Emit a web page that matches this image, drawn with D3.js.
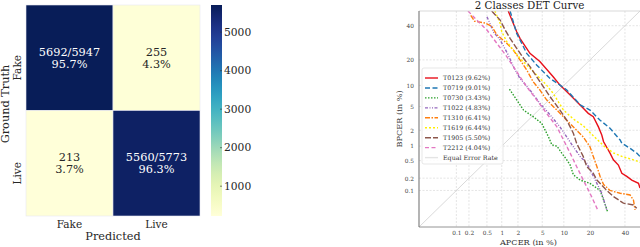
<!DOCTYPE html>
<html>
<head>
<meta charset="utf-8">
<script src="https://cdn.jsdelivr.net/npm/d3@7"></script>
<style>
  html, body { margin: 0; padding: 0; background: #fff; }
  svg { display: block; font-family: "DejaVu Serif", serif; }
</style>
</head>
<body>
<svg id="chart" width="640" height="247"></svg>
<script>
// ---- confusion matrix data ----
const cm_rows = ["Fake", "Live"];
const cm_cols = ["Fake", "Live"];
const cm_counts = [[5692, 255], [213, 5560]];
const cm_totals = [5947, 5773];
const cm_pcts = [["95.7%", "4.3%"], ["3.7%", "96.3%"]];
const cbar_ticks = [1000, 2000, 3000, 4000, 5000];

// ---- DET curve data, [APCER %, BPCER %] ----
const det_names = ["T0123", "T0719", "T0730", "T1022", "T1310", "T1619", "T1905", "T2212"];
const det_eer = ["9.62%", "9.01%", "3.43%", "4.83%", "6.41%", "6.44%", "5.50%", "4.04%"];
const det_ticks = [0.1, 0.2, 0.5, 1, 2, 5, 10, 20, 40];
const det_tick_labels = ["0.1", "0.2", "0.5", "1", "2", "5", "10", "20", "40"];

const t0123 = [[1.33, 50], [1.9, 36], [2.17, 31.9], [3.2, 23.3], [4.6, 19.2], [7.2, 12.9], [8.9, 10.1],
  [12, 7.4], [14.4, 5.9], [17, 4.7], [19.2, 3.9], [21.6, 3.45], [24.2, 2.3], [26, 1.64], [27, 1.22],
  [30.7, 0.72], [32.7, 0.52], [35.8, 0.4], [38, 0.26], [41.2, 0.22], [44.5, 0.18], [49, 0.15], [50, 0.115]];
const t0719 = [[1.44, 50], [1.9, 35], [2.83, 23.3], [4.1, 17.6], [6.5, 12.3], [8.9, 10.1], [10.9, 8.7],
  [15.7, 5.3], [20, 4.4], [25.1, 3.0], [30.7, 2.17], [36.9, 1.32], [38, 1.14], [43.4, 0.9], [47.8, 0.72], [50, 0.61]];
const t0730 = [[1.4, 8.9], [1.9, 6.3], [2.5, 4.4], [3.6, 3.45], [4.9, 2.66], [6.2, 1.5], [6.9, 1.06], [8.1, 1.0],
  [9.4, 0.72], [10.9, 0.52], [12, 0.4], [13.1, 0.24], [15.7, 0.18], [20, 0.15], [25.1, 0.1], [27, 0.057], [29.2, 0.028]];
const t1022 = [[0.5, 46], [0.54, 43.8], [0.68, 36], [0.93, 30.9], [1.33, 22.5], [1.65, 16.9], [2.17, 12.3], [3.2, 8.7],
  [4.6, 5.6], [6.5, 3.7], [8.9, 2.3], [10.9, 1.5], [13.1, 0.97], [15.7, 0.61], [18.5, 0.44], [20.9, 0.26],
  [23.4, 0.15], [26, 0.085], [28.8, 0.031]];
const t1310 = [[0.22, 47], [0.27, 43], [0.46, 41.8], [0.63, 39.6], [0.8, 34.2], [1.33, 28.1], [1.65, 25.1], [2.17, 20],
  [2.83, 15.5], [3.6, 11.2], [4.6, 8.7], [5.8, 6.3], [8.1, 4.4], [10.9, 3.0], [14.3, 2.0], [17, 1.5], [20, 0.97],
  [21.6, 0.61], [23.4, 0.37], [25.1, 0.22], [27, 0.14], [30.7, 0.1], [36.9, 0.085], [43.4, 0.077], [45.6, 0.057], [46.7, 0.031]];
const t1619 = [[0.73, 50], [0.93, 41.6], [1.0, 36], [1.25, 29.9], [1.65, 25.1], [2.17, 20.8], [2.83, 17.6], [4.1, 13.5],
  [5.8, 10.1], [7.2, 7.8], [9.9, 4.4], [13.1, 3.15], [17, 2.4], [21.6, 1.58], [27.8, 0.96], [32.7, 0.73], [39, 0.6],
  [45.6, 0.52], [50, 0.46]];
const t1905 = [[0.63, 50], [0.93, 43.8], [1.16, 37.2], [1.44, 31.9], [1.9, 26], [2.5, 20.8], [3.2, 16.9], [4.1, 12.9],
  [5.2, 9.6], [6.5, 7.0], [8.9, 4.4], [10.9, 3.0], [13.1, 1.77], [14.3, 1.14], [17, 0.61], [18.5, 0.37], [21.6, 0.26],
  [23.4, 0.18], [28.8, 0.1], [32.7, 0.07], [39, 0.047], [45.6, 0.042], [47.8, 0.034]];
const t2212 = [[0.19, 50], [0.3, 43.8], [0.5, 37.2], [0.8, 28.9], [1.25, 21.6], [1.9, 14.8], [2.83, 9.6], [4.1, 6.3],
  [5.8, 3.9], [8.1, 2.3], [9.9, 1.32], [12, 0.72], [14.3, 0.37], [17, 0.18], [20, 0.085], [24.2, 0.028]];
const det_series = [t0123, t0719, t0730, t1022, t1310, t1619, t1905, t2212];

// line styles, one per series
const det_colors = ["#e8101a", "#1f77b4", "#2ca02c", "#9467bd", "#ff7f0e", "#ffee00", "#8c564b", "#e377c2"];
const det_dash = ["", "5,2.5", "1.5,1.5", "3,1.5,1,1.5,1,1.5", "5,1.5,1.5,1.5", "2,2", "6,2", "4,2.5"];

const svg = d3.select("#chart");

// inverse normal cdf (Acklam) for the DET axes
function probit(p) {
  const a = [-39.69683028665376, 220.9460984245205, -275.9285104469687, 138.3577518672690, -30.66479806614716, 2.506628277459239];
  const b = [-54.47609879822406, 161.5858368580409, -155.6989798598866, 66.80131188771972, -13.28068155288572];
  const c = [-0.007784894002430293, -0.3223964580411365, -2.400758277161838, -2.549671010466088, 4.374664141464968, 2.938163982698783];
  const d = [0.007784695709041462, 0.3224671290700398, 2.445134137142996, 3.754408661907416];
  const tail = (q) => (((((c[0] * q + c[1]) * q + c[2]) * q + c[3]) * q + c[4]) * q + c[5]) /
    ((((d[0] * q + d[1]) * q + d[2]) * q + d[3]) * q + 1);
  if (p < 0.02425) return tail(Math.sqrt(-2 * Math.log(p)));
  if (p > 1 - 0.02425) return -tail(Math.sqrt(-2 * Math.log(1 - p)));
  const q = p - 0.5, r = q * q;
  return (((((a[0] * r + a[1]) * r + a[2]) * r + a[3]) * r + a[4]) * r + a[5]) * q /
    (((((b[0] * r + b[1]) * r + b[2]) * r + b[3]) * r + b[4]) * r + 1);
}

/* ---------- left: confusion matrix heatmap ---------- */
const hm = { left: 26, right: 200, top: 5, bottom: 216 };
const xb = d3.scaleBand().domain(cm_cols).range([hm.left, hm.right]);
const yb = d3.scaleBand().domain(cm_rows).range([hm.top, hm.bottom]);
const vmin = d3.min(cm_counts.flat()), vmax = d3.max(cm_counts.flat());
const color = d3.scaleSequential(d3.interpolateYlGnBu).domain([vmin, vmax]);

const cells = [];
cm_rows.forEach((r, i) => cm_cols.forEach((c, j) => cells.push({ r, c, i, j, v: cm_counts[i][j] })));

const cell = svg.append("g").selectAll("g").data(cells).join("g");
cell.append("rect")
  .attr("x", d => xb(d.c)).attr("y", d => yb(d.r))
  .attr("width", xb.bandwidth()).attr("height", yb.bandwidth())
  .attr("fill", d => color(d.v))
  .attr("stroke", "#e8e8f0").attr("stroke-width", 0.6);

cell.append("text")
  .attr("text-anchor", "middle")
  .attr("font-size", 11.3)
  .attr("fill", d => d.v > (vmin + vmax) / 2 ? "#ffffff" : "#262626")
  .each(function (d) {
    const cx = xb(d.c) + xb.bandwidth() / 2;
    const cy = yb(d.r) + yb.bandwidth() / 2;
    const t = d3.select(this);
    t.append("tspan").attr("x", cx).attr("y", cy - 2)
      .text(d.i === d.j ? `${d.v}/${cm_totals[d.i]}` : `${d.v}`);
    t.append("tspan").attr("x", cx).attr("y", cy + 10).text(cm_pcts[d.i][d.j]);
  });

// tick labels
svg.append("g").selectAll("text").data(cm_cols).join("text")
  .attr("x", d => xb(d) + xb.bandwidth() / 2).attr("y", 228)
  .attr("text-anchor", "middle").attr("font-size", 10.5).attr("fill", "#262626")
  .text(d => d);
svg.append("g").selectAll("text").data(cm_rows).join("text")
  .attr("transform", d => `translate(21,${yb(d) + yb.bandwidth() / 2 + 10}) rotate(-90)`)
  .attr("text-anchor", "middle").attr("font-size", 10.5).attr("fill", "#262626")
  .text(d => d);
svg.append("text")
  .attr("x", (hm.left + hm.right) / 2).attr("y", 240)
  .attr("text-anchor", "middle").attr("font-size", 11.3).attr("fill", "#262626")
  .text("Predicted");
svg.append("text")
  .attr("transform", `translate(9,104) rotate(-90)`)
  .attr("text-anchor", "middle").attr("font-size", 11.3).attr("fill", "#262626")
  .text("Ground Truth");

// colorbar
const cb = { left: 211, right: 222 };
const cy = d3.scaleLinear().domain([vmin, vmax]).range([hm.bottom, hm.top]);
const grad = svg.append("defs").append("linearGradient")
  .attr("id", "cbar").attr("x1", 0).attr("y1", 1).attr("x2", 0).attr("y2", 0);
grad.selectAll("stop").data(d3.range(0, 1.0001, 0.05)).join("stop")
  .attr("offset", d => d)
  .attr("stop-color", d => color(vmin + d * (vmax - vmin)));
svg.append("rect")
  .attr("x", cb.left).attr("y", hm.top)
  .attr("width", cb.right - cb.left).attr("height", hm.bottom - hm.top)
  .attr("fill", "url(#cbar)");
const cbAxis = svg.append("g")
  .attr("transform", `translate(${cb.right - 2},0)`)
  .call(d3.axisRight(cy).tickValues(cbar_ticks).tickSize(2).tickPadding(2).tickFormat(d3.format("d")));
cbAxis.select(".domain").remove();
cbAxis.selectAll("line").attr("stroke", "#333").attr("stroke-width", 0.6);
cbAxis.selectAll("text").attr("font-family", "DejaVu Serif").attr("font-size", 10.7).attr("fill", "#262626");

/* ---------- right: DET curves ---------- */
const pl = { left: 419, right: 640, top: 11, bottom: 227 };
const lo = probit(0.0001);
const x = d3.scaleLinear().domain([lo, 0]).range([pl.left, pl.right]);
const y = d3.scaleLinear().domain([lo, 0]).range([pl.bottom, pl.top]);
const tickPos = det_ticks.map(t => probit(t / 100));

svg.append("defs").append("clipPath").attr("id", "plot-clip")
  .append("rect").attr("x", pl.left).attr("y", pl.top)
  .attr("width", pl.right - pl.left).attr("height", pl.bottom - pl.top);

// grid
const grid = svg.append("g").attr("stroke", "#d4d4d4").attr("stroke-width", 0.6).attr("stroke-dasharray", "2,1.5");
grid.selectAll(".gx").data(tickPos).join("line").attr("class", "gx")
  .attr("x1", d => x(d)).attr("x2", d => x(d)).attr("y1", pl.top).attr("y2", pl.bottom);
grid.selectAll(".gy").data(tickPos).join("line").attr("class", "gy")
  .attr("y1", d => y(d)).attr("y2", d => y(d)).attr("x1", pl.left).attr("x2", pl.right);

// equal error rate diagonal
svg.append("line")
  .attr("x1", x(lo)).attr("y1", y(lo)).attr("x2", x(0)).attr("y2", y(0))
  .attr("stroke", "#c8c8c8").attr("stroke-width", 0.7);

// curves
const line = d3.line()
  .x(d => x(probit(d[0] / 100)))
  .y(d => y(probit(d[1] / 100)));
svg.append("g").attr("clip-path", "url(#plot-clip)")
  .selectAll("path").data(det_series).join("path")
  .attr("d", line)
  .attr("fill", "none")
  .attr("stroke", (d, i) => det_colors[i])
  .attr("stroke-width", 1.4)
  .attr("stroke-dasharray", (d, i) => det_dash[i] || null);

// frame
svg.append("line").attr("x1", pl.left).attr("x2", pl.right).attr("y1", pl.top).attr("y2", pl.top)
  .attr("stroke", "#cfcfcf").attr("stroke-width", 0.8);
svg.append("line").attr("x1", pl.left).attr("x2", pl.right).attr("y1", pl.bottom).attr("y2", pl.bottom)
  .attr("stroke", "#888").attr("stroke-width", 0.9);
svg.append("line").attr("x1", pl.left).attr("x2", pl.left).attr("y1", pl.top).attr("y2", pl.bottom)
  .attr("stroke", "#777").attr("stroke-width", 1.1);

// axes
const xAxis = svg.append("g").attr("transform", `translate(0,${pl.bottom})`)
  .call(d3.axisBottom(x).tickValues(tickPos).tickSize(0).tickPadding(4)
    .tickFormat((d, i) => det_tick_labels[i]));
const yAxis = svg.append("g").attr("transform", `translate(${pl.left},0)`)
  .call(d3.axisLeft(y).tickValues(tickPos).tickSize(0).tickPadding(5)
    .tickFormat((d, i) => det_tick_labels[i]));
for (const ax of [xAxis, yAxis]) {
  ax.select(".domain").remove();
  ax.selectAll("text").attr("font-family", "DejaVu Serif").attr("font-size", 5.8).attr("fill", "#444");
}

svg.append("text")
  .attr("x", (pl.left + pl.right) / 2 - 1).attr("y", 245)
  .attr("text-anchor", "middle").attr("font-size", 8.2).attr("fill", "#333")
  .text("APCER (in %)");
svg.append("text")
  .attr("transform", `translate(402,${(pl.top + pl.bottom) / 2}) rotate(-90)`)
  .attr("text-anchor", "middle").attr("font-size", 8.2).attr("fill", "#333")
  .text("BPCER (in %)");
svg.append("text")
  .attr("x", (pl.left + pl.right) / 2).attr("y", 9)
  .attr("text-anchor", "middle").attr("font-size", 10.3).attr("fill", "#222")
  .text("2 Classes DET Curve");

// legend
const lg = svg.append("g").attr("transform", "translate(422,68)");
lg.append("rect").attr("width", 81).attr("height", 96).attr("rx", 2)
  .attr("fill", "#fff").attr("fill-opacity", 0.85)
  .attr("stroke", "#dddddd").attr("stroke-width", 0.7);
const entries = det_names.map((n, i) => ({ label: `${n} (${det_eer[i]})`, color: det_colors[i], dash: det_dash[i] }));
entries.push({ label: "Equal Error Rate", color: "#e4e4e4", dash: "" });
const row = lg.selectAll("g").data(entries).join("g")
  .attr("transform", (d, i) => `translate(0,${10 + i * 9.95})`);
row.append("line").attr("x1", 3).attr("x2", 16)
  .attr("stroke", d => d.color).attr("stroke-width", 1.4)
  .attr("stroke-dasharray", d => d.dash || null);
row.append("text").attr("x", 21).attr("dy", "0.35em")
  .attr("font-size", 6.3).attr("fill", "#333")
  .text(d => d.label);
</script>
</body>
</html>
